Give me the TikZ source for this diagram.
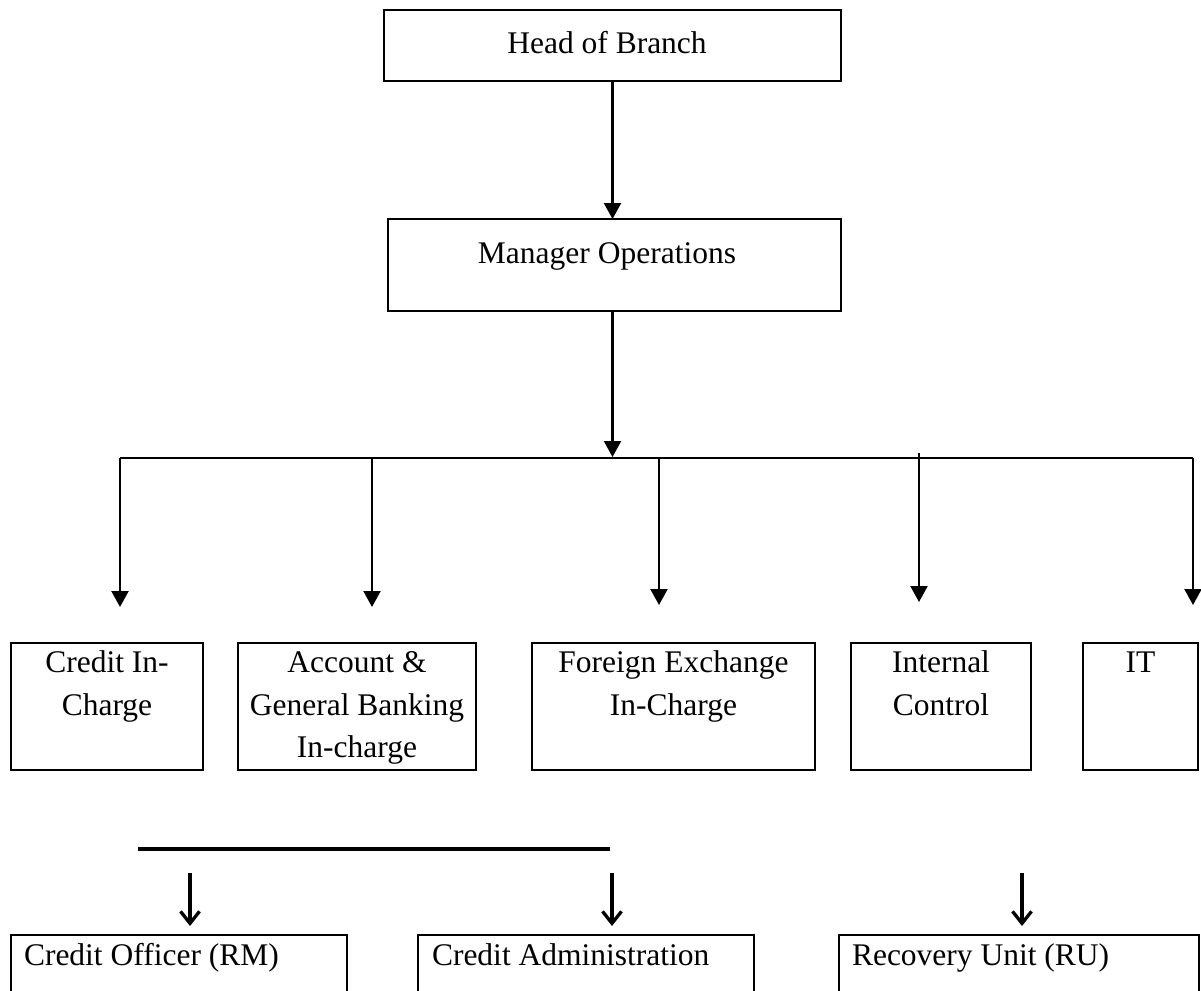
\documentclass[tikz,border=0pt]{standalone}
\usepackage{fontspec}
\setmainfont{Liberation Serif}
\usetikzlibrary{arrows.meta}
\tikzset{
  box/.style={draw, line width=1.8pt, anchor=north west, inner sep=0pt, outer sep=0pt},
  lbl/.style={font=\fontsize{31.5}{42.5}\selectfont, inner sep=0pt, outer sep=0pt, align=center, anchor=north},
  lbll/.style={font=\fontsize{31.5}{42.5}\selectfont, inner sep=0pt, outer sep=0pt, anchor=north west},
  conn/.style={line width=2.2pt},
  arr/.style={line width=2.2pt, -{Triangle[width=17pt,length=16pt]}},
  barb/.style={line width=3.3pt, -{Straight Barb[width=19pt,length=12pt]}},
  bar/.style={line width=3.8pt}
}
\begin{document}
\begin{tikzpicture}[x=1pt,y=-1pt]
\useasboundingbox (0,0) rectangle (1201,990);
\clip (0,0) rectangle (1201,990);

% top boxes
\node[box, minimum width=457pt, minimum height=71pt] (hob) at (384,10) {};
\node[box, minimum width=453pt, minimum height=92pt] (mo) at (388,219) {};
\node[lbl] (hobt) at (607,23.25) {\strut Head of Branch};
\node[lbl] (mot) at (607,233.25) {\strut Manager Operations};

% second row boxes
\node[box, minimum width=192pt, minimum height=127pt] (ci) at (11,643) {};
\node[box, minimum width=238pt, minimum height=127pt] (ag) at (238,643) {};
\node[box, minimum width=283pt, minimum height=127pt] (fx) at (532,643) {};
\node[box, minimum width=180pt, minimum height=127pt] (ic) at (851,643) {};
\node[box, minimum width=115pt, minimum height=127pt] (it) at (1083,643) {};
\node[lbl] (cit) at (ci.north) {\strut Credit In-\\Charge};
\node[lbl] (agt) at (ag.north) {\strut Account \&\\General Banking\\In-charge};
\node[lbl] (fxt) at (fx.north) {\strut Foreign Exchange\\In-Charge};
\node[lbl] (ict) at (ic.north) {\strut Internal\\Control};
\node[lbl] (itt) at (it.north) {\strut IT};

% bottom boxes
\node[box, minimum width=336pt, minimum height=80pt] (co) at (11,935) {};
\node[box, minimum width=336pt, minimum height=80pt] (ca) at (418,935) {};
\node[box, minimum width=360pt, minimum height=80pt] (ru) at (839,935) {};
\node[lbll] (cot) at (24,935.25) {\strut Credit Officer (RM)};
\node[lbll] (cat) at (432,935.25) {\strut Credit Administration};
\node[lbll] (rut) at (852,935.25) {\strut Recovery Unit (RU)};

% connectors top
\draw[arr] (hob.south) -- (hob.south |- mo.north);
\coordinate (bl) at (120,458);
\coordinate (br) at (1193,458);
\draw[conn] (bl) -- (br);
\draw[arr] (hob.south |- mo.south) -- (612.5,457);

\coordinate (t1) at (120,607);
\coordinate (t2) at (372,607);
\coordinate (t3) at (659,605);
\coordinate (t4) at (919,602);
\coordinate (t5) at (1193,605);
\draw[arr] (t1 |- bl) -- (t1);
\draw[arr] (t2 |- bl) -- (t2);
\draw[arr] (t3 |- bl) -- (t3);
\draw[arr] (919,453) -- (t4);
\draw[arr] (t5 |- bl) -- (t5);

% bottom connectors
\coordinate (b1) at (138,849);
\coordinate (b2) at (610,849);
\draw[bar] (b1) -- (b2);
\coordinate (s1) at (190,873);
\coordinate (s2) at (612,873);
\coordinate (s3) at (1022,873);
\draw[barb] (s1) -- (s1 |- 0,926);
\draw[barb] (s2) -- (s2 |- 0,926);
\draw[barb] (s3) -- (s3 |- 0,926);
\end{tikzpicture}
\end{document}
